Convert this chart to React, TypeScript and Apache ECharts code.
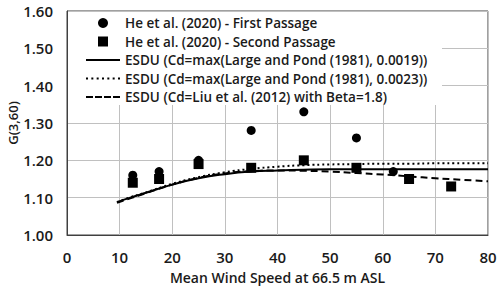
import React, { useEffect, useRef } from "react";
import * as echarts from "echarts";

const firstX = [12.5, 17.5, 25, 35, 45, 55, 62];
const firstY = [1.16, 1.17, 1.2, 1.28, 1.33, 1.26, 1.17];
const secondX = [12.5, 17.5, 25, 35, 45, 55, 65, 73];
const secondY = [1.14, 1.15, 1.19, 1.18, 1.2, 1.18, 1.15, 1.13];

const curveX = [9.5, 12, 15, 20, 25, 30, 35, 40, 45, 50, 55, 60, 65, 70, 75, 80];
const esdu19 = [1.088, 1.1, 1.113, 1.135, 1.152, 1.163, 1.17, 1.173, 1.175, 1.176, 1.176, 1.176, 1.176, 1.176, 1.176, 1.176];
const esdu23 = [1.088, 1.101, 1.114, 1.137, 1.155, 1.168, 1.177, 1.183, 1.187, 1.189, 1.19, 1.191, 1.191, 1.192, 1.192, 1.192];
const esduLiu = [1.086, 1.098, 1.112, 1.135, 1.153, 1.165, 1.171, 1.173, 1.172, 1.17, 1.166, 1.162, 1.157, 1.152, 1.148, 1.144];

const names = [
  "He et al. (2020) - First Passage",
  "He et al. (2020) - Second Passage",
  "ESDU (Cd=max(Large and Pond (1981), 0.0019))",
  "ESDU (Cd=max(Large and Pond (1981), 0.0023))",
  "ESDU (Cd=Liu et al. (2012) with Beta=1.8)",
];

const zip = (xs: number[], ys: number[]) => xs.map((x, i) => [x, ys[i]]);

const FONT = "'Open Sans', 'Noto Sans', sans-serif";
const TXT = "#1a1a1a";

// legend icon shapes
const squareIcon = "path://M0,0h10v10h-10z";
const solidIcon = "path://M0,0h34v2h-34z";
const dottedIcon =
  "path://" +
  [0, 5.3, 10.6, 15.9, 21.2, 26.5, 31.8].map((x) => `M${x},0h2v2h-2z`).join("");
const dashedIcon =
  "path://" + [0, 9, 18, 27].map((x) => `M${x},0h7v2h-7z`).join("");

export default function App() {
  const ref = useRef<HTMLDivElement>(null);
  useEffect(() => {
    if (!ref.current) return;
    const chart = echarts.init(ref.current, undefined, { renderer: "svg" });
    chart.setOption({
      animation: false,
      backgroundColor: "#fff",
      grid: {
        left: 67,
        right: 12,
        top: 11,
        bottom: 54,
        containLabel: false,
        outerBoundsMode: "none",
        show: true,
        borderColor: "#404040",
        borderWidth: 1,
      },
      graphic: [
        {
          type: "rect",
          z: 1,
          shape: { x: 68, y: 12, width: 374, height: 93 },
          style: { fill: "#fff" },
          silent: true,
        },
      ],
      legend: {
        orient: "vertical",
        left: 86,
        top: 16,
        padding: 0,
        itemWidth: 34,
        itemHeight: 10,
        itemGap: 4.5,
        symbolKeepAspect: true,
        textStyle: { fontFamily: FONT, fontSize: 13.5, fontWeight: 600, color: TXT, lineHeight: 14 },
        data: [
          { name: names[0], icon: "circle", itemStyle: { color: "#000", opacity: 1 } },
          { name: names[1], icon: squareIcon, itemStyle: { color: "#000", opacity: 1 } },
          { name: names[2], icon: solidIcon, itemStyle: { color: "#000", opacity: 1 } },
          { name: names[3], icon: dottedIcon, itemStyle: { color: "#000", opacity: 1 } },
          { name: names[4], icon: dashedIcon, itemStyle: { color: "#000", opacity: 1 } },
        ],
      },
      xAxis: {
        type: "value",
        min: 0,
        max: 80,
        interval: 10,
        name: "Mean Wind Speed at 66.5 m ASL",
        nameLocation: "middle",
        nameGap: 35,
        nameTextStyle: { fontFamily: FONT, fontSize: 14, fontWeight: 600, color: TXT },
        axisLine: { lineStyle: { color: "#404040", width: 1 } },
        axisTick: { show: false },
        axisLabel: { fontFamily: FONT, fontSize: 15, fontWeight: 600, color: TXT, margin: 14 },
        splitLine: { lineStyle: { color: "#c0c0c0", width: 1 } },
      },
      yAxis: {
        type: "value",
        min: 1.0,
        max: 1.6,
        interval: 0.1,
        name: "G(3,60)",
        nameLocation: "middle",
        nameGap: 47,
        nameMoveOverlap: false,
        nameTextStyle: { fontFamily: FONT, fontSize: 13, fontWeight: 600, color: TXT, lineHeight: 14 },
        axisLine: { show: true, lineStyle: { color: "#404040", width: 1 } },
        axisTick: { show: false },
        axisLabel: {
          fontFamily: FONT,
          fontSize: 15,
          fontWeight: 600,
          color: TXT,
          margin: 14,
          formatter: (v: number) => v.toFixed(2),
        },
        splitLine: { lineStyle: { color: "#c0c0c0", width: 1 } },
      },
      series: [
        {
          name: names[0],
          type: "scatter",
          symbol: "circle",
          symbolSize: 9,
          itemStyle: { color: "#000", opacity: 1 },
          data: zip(firstX, firstY),
          z: 3,
        },
        {
          name: names[1],
          type: "scatter",
          symbol: "rect",
          symbolSize: 10,
          itemStyle: { color: "#000", opacity: 1 },
          data: zip(secondX, secondY),
          z: 3,
        },
        {
          name: names[2],
          type: "line",
          smooth: true,
          symbol: "none",
          lineStyle: { color: "#000", width: 2, type: "solid" },
          itemStyle: { color: "#000" },
          data: zip(curveX, esdu19),
        },
        {
          name: names[3],
          type: "line",
          smooth: true,
          symbol: "none",
          lineStyle: { color: "#000", width: 2, type: [2, 3] },
          itemStyle: { color: "#000" },
          data: zip(curveX, esdu23),
        },
        {
          name: names[4],
          type: "line",
          smooth: true,
          symbol: "none",
          lineStyle: { color: "#000", width: 2, type: [7, 4] },
          itemStyle: { color: "#000" },
          data: zip(curveX, esduLiu),
        },
      ],
    });
    return () => chart.dispose();
  }, []);
  return (
    <div
      ref={ref}
      style={{ position: "fixed", left: 0, top: 0, width: 500, height: 289 }}
    />
  );
}
